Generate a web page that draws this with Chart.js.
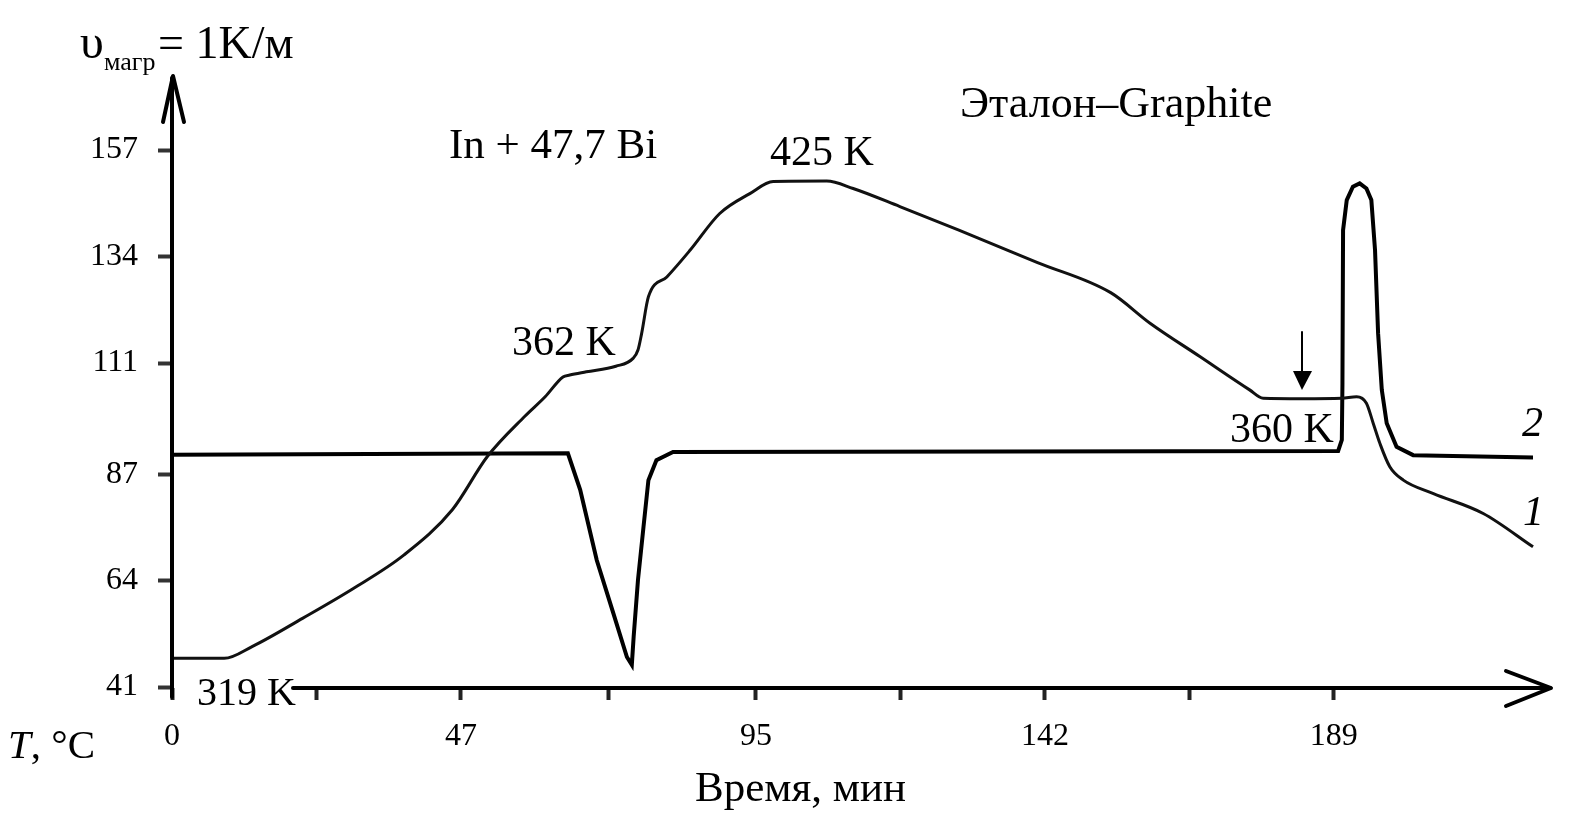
<!DOCTYPE html>
<html>
<head>
<meta charset="utf-8">
<script src="https://cdn.jsdelivr.net/npm/chart.js@4.4.1/dist/chart.umd.min.js"></script>
<style>
html, body { margin: 0; padding: 0; background: #fff; }
canvas { display: block; }
</style>
</head>
<body>
<canvas id="dtaChart" width="1583" height="824"></canvas>
<script>
// curve 1 - temperature of sample (In + 47,7 Bi)
var timeMin1 = [0, 8.5, 13.1, 21.3, 29.5, 37.7, 45.6, 51.3, 57.4, 60.7,
  63.6, 64.7, 67.4, 72.2, 75.0, 75.8, 76.4, 77.5, 80.5, 84.3,
  89.1, 94.0, 97.8, 106.5, 110.8, 118.4, 128.0, 140.8, 152.7, 159.1,
  167.2, 175.3, 177.5, 183.8, 190.3, 192.7, 194.3, 195.4, 196.5, 198.1,
  200.3, 205.2, 213.3, 221.4];
var temp1 = [47.2, 47.2, 49.8, 55.9, 62.3, 69.5, 79.3, 90.8, 99.5, 103.7,
  108.0, 108.4, 109.1, 110.3, 112.0, 113.8, 117.4, 125.3, 129.6, 135.4,
  143.3, 147.6, 150.2, 150.3, 148.7, 144.8, 139.7, 132.7, 126.2, 119.6,
  112.4, 105.2, 103.4, 103.3, 103.4, 103.7, 102.3, 98.0, 93.6, 88.6,
  85.7, 82.8, 78.5, 71.3];

// curve 2 - differential signal vs graphite reference
var timeMin2 = [0, 64.4, 66.4, 69.1, 71.8, 74.0, 74.8, 75.1, 75.8, 76.7,
  77.5, 78.8, 81.5, 189.7, 190.3, 190.4, 190.5, 191.1, 192.1, 193.2,
  194.3, 195.1, 195.7, 196.2, 196.8, 197.6, 199.2, 201.9, 221.4];
var signal2 = [91.2, 91.5, 83.6, 68.4, 56.9, 47.5, 45.8, 51.9, 64.1, 75.6,
  85.7, 90.0, 91.8, 92.0, 94.4, 106.7, 139.7, 146.2, 149.1, 149.8,
  148.7, 146.2, 135.4, 117.4, 105.2, 98.0, 92.9, 91.1, 90.6];

var xTickVals = [0, 23.5, 47, 71, 95, 118.5, 142, 165.5, 189];
var xTickLabels = ['0', '', '47', '', '95', '', '142', '', '189'];
var yTickVals = [41, 64, 87, 111, 134, 157];

var serif = "'Liberation Serif', 'Times New Roman', serif";

function toPoints(xs, ys) {
  return xs.map(function(x, i) { return { x: x, y: ys[i] }; });
}

function label(ctx, str, x, y, size, italic) {
  ctx.font = (italic ? 'italic ' : '') + size + 'px ' + serif;
  ctx.fillText(str, x, y);
  return ctx.measureText(str).width;
}

// axes with arrows + all the text on the figure
var figurePlugin = {
  id: 'figure',
  afterDatasetsDraw: function(chart) {
    var ctx = chart.ctx, a = chart.chartArea;
    ctx.save();
    ctx.strokeStyle = '#000';
    ctx.fillStyle = '#000';
    ctx.lineWidth = 4;
    ctx.lineCap = 'round';
    ctx.lineJoin = 'round';

    // y axis + arrow head
    ctx.beginPath();
    ctx.moveTo(a.left, a.bottom + 9);
    ctx.lineTo(a.left, a.top + 2);
    ctx.stroke();
    ctx.beginPath();
    ctx.moveTo(a.left - 9, a.top + 46);
    ctx.lineTo(a.left + 1, a.top);
    ctx.lineTo(a.left + 12, a.top + 46);
    ctx.stroke();

    // x axis (starts after the 319 K label) + arrow head
    ctx.beginPath();
    ctx.moveTo(a.left + 121, a.bottom);
    ctx.lineTo(a.right + 1, a.bottom);
    ctx.stroke();
    ctx.beginPath();
    ctx.moveTo(a.right - 43, a.bottom - 17);
    ctx.lineTo(a.right + 2, a.bottom);
    ctx.lineTo(a.right - 43, a.bottom + 18);
    ctx.stroke();

    // small arrow pointing at the 360 K plateau
    ctx.lineWidth = 2;
    ctx.beginPath();
    ctx.moveTo(1302, 332);
    ctx.lineTo(1302, 374);
    ctx.stroke();
    ctx.beginPath();
    ctx.moveTo(1293, 371);
    ctx.lineTo(1312, 371);
    ctx.lineTo(1302, 390);
    ctx.closePath();
    ctx.fill();

    ctx.textBaseline = 'alphabetic';
    ctx.textAlign = 'left';

    // heading  υмагр = 1K/м
    label(ctx, '\u03C5', 80, 58, 48, false);
    label(ctx, 'магр', 104, 70, 26, false);
    label(ctx, '= 1K/м', 158, 58, 46, false);

    label(ctx, 'Эталон–Graphite', 960, 117, 44, false);
    label(ctx, 'In + 47,7 Bi', 449, 158, 43, false);
    label(ctx, '425 K', 770, 165, 42, false);
    label(ctx, '362 K', 512, 355, 42, false);
    label(ctx, '360 K', 1230, 442, 42, false);
    label(ctx, '319 K', 197, 705, 40, false);
    label(ctx, '2', 1522, 436, 42, true);
    label(ctx, '1', 1523, 525, 42, true);

    var w = label(ctx, 'T', 8, 758, 41, true);
    label(ctx, ', °C', 8 + w, 758, 41, false);
    label(ctx, 'Время, мин', 695, 801, 43, false);

    ctx.restore();
  }
};

new Chart(document.getElementById('dtaChart'), {
  type: 'line',
  data: {
    datasets: [{
      label: '1',
      data: toPoints(timeMin1, temp1),
      borderColor: '#111',
      borderWidth: 3,
      pointRadius: 0,
      cubicInterpolationMode: 'monotone',
      fill: false
    }, {
      label: '2',
      data: toPoints(timeMin2, signal2),
      borderColor: '#000',
      borderWidth: 4,
      pointRadius: 0,
      tension: 0,
      fill: false
    }]
  },
  options: {
    responsive: false,
    animation: false,
    devicePixelRatio: 1,
    layout: { padding: { left: 0, top: 76, right: 34, bottom: 0 } },
    plugins: { legend: { display: false }, tooltip: { enabled: false } },
    scales: {
      x: {
        type: 'linear',
        min: 0,
        max: 224,
        afterFit: function(scale) { scale.height = 136; },
        afterBuildTicks: function(scale) {
          scale.ticks = xTickVals.map(function(v) { return { value: v }; });
        },
        border: { display: false },
        grid: {
          drawOnChartArea: false,
          drawTicks: true,
          tickLength: 12,
          tickWidth: 4,
          tickColor: '#222'
        },
        ticks: {
          autoSkip: false,
          maxRotation: 0,
          padding: 17,
          color: '#000',
          font: { family: serif, size: 32 },
          callback: function(value, i) { return xTickLabels[i]; }
        }
      },
      y: {
        type: 'linear',
        min: 40.8,
        max: 173,
        afterFit: function(scale) { scale.width = 172; },
        afterBuildTicks: function(scale) {
          scale.ticks = yTickVals.map(function(v) { return { value: v }; });
        },
        border: { display: false },
        grid: {
          drawOnChartArea: false,
          drawTicks: true,
          tickLength: 14,
          tickWidth: 4,
          tickColor: '#333'
        },
        ticks: {
          autoSkip: false,
          padding: 20,
          color: '#000',
          font: { family: serif, size: 32 }
        }
      }
    }
  },
  plugins: [figurePlugin]
});
</script>
</body>
</html>
